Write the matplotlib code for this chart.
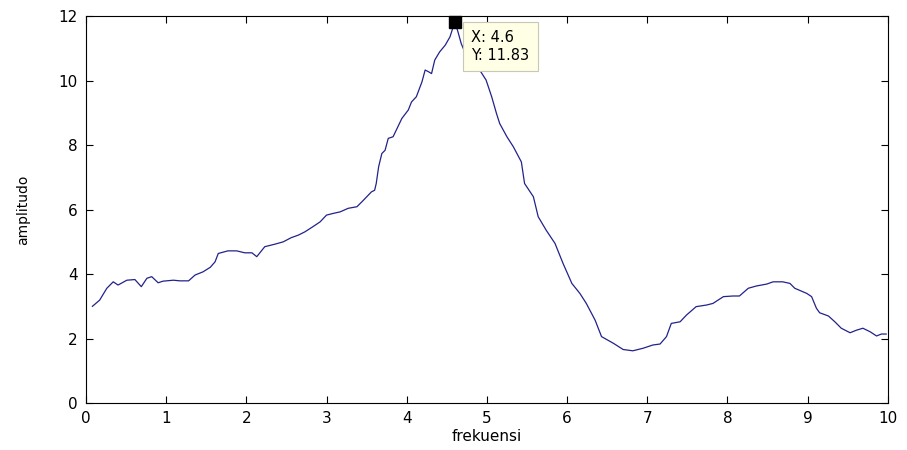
import matplotlib
matplotlib.use("Agg")
import matplotlib.pyplot as plt

# values
freq = [0.08, 0.17, 0.26, 0.34, 0.40, 0.51, 0.61, 0.69, 0.76, 0.82, 0.90, 0.96,
        1.09, 1.17, 1.28, 1.36, 1.46, 1.55, 1.61, 1.65, 1.77, 1.88, 1.98, 2.07,
        2.13, 2.23, 2.36, 2.46, 2.56, 2.65, 2.73, 2.83, 2.92, 3.00, 3.08, 3.17,
        3.27, 3.38, 3.46, 3.56, 3.60, 3.62, 3.65, 3.69, 3.73, 3.77, 3.83, 3.89,
        3.94, 4.02, 4.06, 4.12, 4.19, 4.23, 4.27, 4.31, 4.35, 4.41, 4.48, 4.54,
        4.58, 4.60, 4.64, 4.68, 4.75, 4.83, 4.91, 4.99, 5.06, 5.12, 5.16, 5.25,
        5.33, 5.43, 5.47, 5.58, 5.64, 5.74, 5.85, 5.95, 6.06, 6.16, 6.24, 6.35,
        6.43, 6.58, 6.70, 6.82, 6.95, 7.07, 7.16, 7.24, 7.30, 7.41, 7.49, 7.61,
        7.74, 7.82, 7.95, 8.07, 8.15, 8.26, 8.36, 8.49, 8.57, 8.69, 8.78, 8.84,
        8.99, 9.05, 9.11, 9.15, 9.26, 9.34, 9.42, 9.53, 9.61, 9.69, 9.78, 9.86,
        9.92, 9.98]
amp = [3.00, 3.19, 3.56, 3.76, 3.66, 3.81, 3.83, 3.61, 3.87, 3.92, 3.73, 3.78,
       3.81, 3.79, 3.79, 3.97, 4.07, 4.21, 4.38, 4.64, 4.72, 4.72, 4.66, 4.66,
       4.54, 4.85, 4.93, 5.00, 5.13, 5.21, 5.31, 5.47, 5.62, 5.83, 5.88, 5.93,
       6.04, 6.09, 6.29, 6.55, 6.60, 6.81, 7.33, 7.74, 7.84, 8.21, 8.26, 8.57,
       8.83, 9.09, 9.34, 9.50, 9.96, 10.33, 10.28, 10.22, 10.64, 10.89, 11.10, 11.36,
       11.67, 11.83, 11.51, 11.15, 10.74, 10.43, 10.33, 10.02, 9.50, 8.98, 8.67, 8.26,
       7.95, 7.48, 6.81, 6.40, 5.78, 5.36, 4.95, 4.33, 3.71, 3.40, 3.09, 2.57,
       2.06, 1.85, 1.66, 1.62, 1.70, 1.80, 1.83, 2.06, 2.47, 2.52, 2.73, 2.99,
       3.04, 3.09, 3.30, 3.32, 3.32, 3.56, 3.63, 3.69, 3.76, 3.76, 3.71, 3.56,
       3.40, 3.30, 2.94, 2.80, 2.70, 2.52, 2.32, 2.18, 2.26, 2.32, 2.21, 2.08,
       2.14, 2.14]

tip_x = 4.6
tip_y = 11.83

fig = plt.figure(figsize=(9.07, 4.5), dpi=100)
ax = fig.add_axes([0.0948, 0.1044, 0.884, 0.8596])

ax.plot(freq, amp, color="#22228a", linewidth=0.9)
ax.plot([tip_x], [tip_y], marker="s", markersize=9, color="black",
        clip_on=False, zorder=5)
ax.annotate(f"X: {tip_x}\nY: {tip_y}", xy=(tip_x, tip_y),
            xytext=(12, -6), textcoords="offset points", va="top", ha="left",
            fontsize=10.5, linespacing=1.25,
            bbox=dict(boxstyle="square,pad=0.55", fc="#ffffe6", ec="#c8c8b4", lw=0.8))

ax.set_xlim(0, 10)
ax.set_ylim(0, 12)
ax.set_xticks(range(0, 11))
ax.set_yticks(range(0, 13, 2))
ax.tick_params(direction="in", top=True, right=True, length=5, labelsize=11, pad=6)
ax.set_xlabel("frekuensi", fontsize=11, labelpad=2)
ax.set_ylabel("amplitudo", fontsize=10, labelpad=20)

plt.savefig("out.png")
